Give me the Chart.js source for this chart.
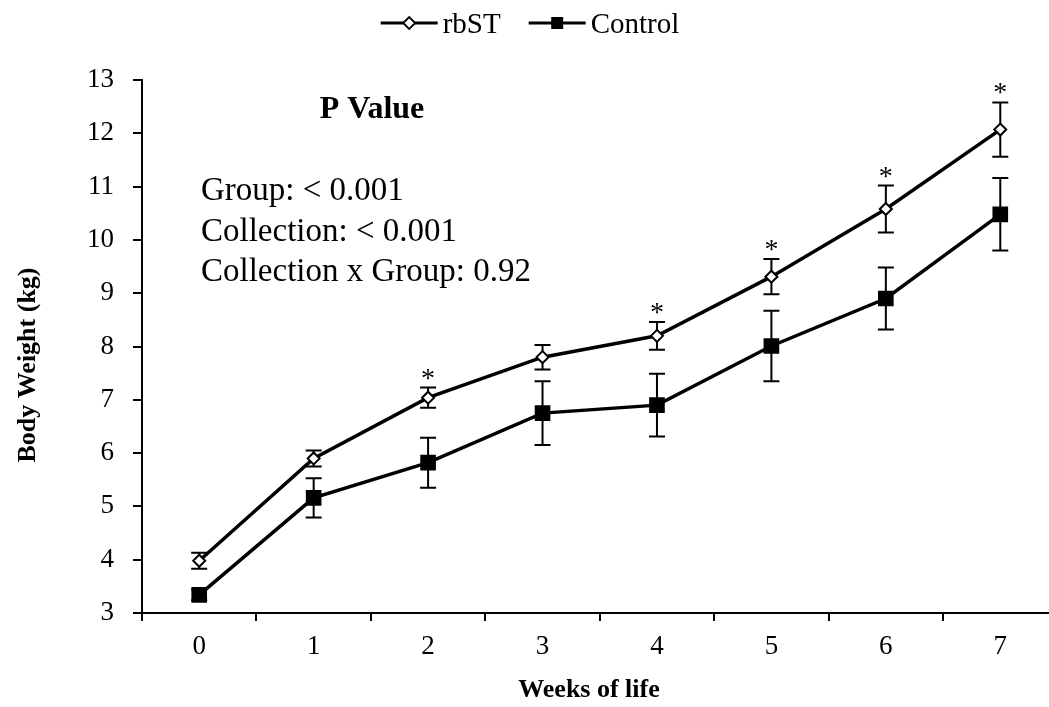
<!DOCTYPE html>
<html lang="en">
<head>
    <meta charset="UTF-8">
    <title>Body Weight rbST vs Control</title>
    <style>
        html, body { margin: 0; padding: 0; background: #fff; overflow: hidden; }
        #wrap { width: 1069px; height: 707px; }
        #myChart { width: 1069px; height: 707px; }
    </style>
</head>
<body>
    <div id="wrap">
        <canvas id="myChart" width="1069" height="707"></canvas>
    </div>

    <script src="https://cdn.jsdelivr.net/npm/chart.js@4.4.1/dist/chart.umd.min.js"></script>
    <script>
        // data
        const weeks = ['0', '1', '2', '3', '4', '5', '6', '7'];
        const rbST = [3.98, 5.90, 7.04, 7.80, 8.20, 9.31, 10.58, 12.07];
        const rbSTErr = [0.15, 0.15, 0.19, 0.23, 0.26, 0.33, 0.44, 0.51];
        const control = [3.34, 5.16, 5.82, 6.75, 6.90, 8.01, 8.90, 10.48];
        const controlErr = [0.10, 0.37, 0.47, 0.60, 0.59, 0.66, 0.58, 0.68];
        const significant = [false, false, true, false, true, true, true, true];
        const xTitle = 'Weeks of life';
        const yTitle = 'Body Weight (kg)';
        const pTitle = 'P Value';
        const pLines = ['Group: < 0.001', 'Collection: < 0.001', 'Collection x Group: 0.92'];

        const serif = "'Liberation Serif', 'Times New Roman', serif";

        // error bars under the lines and markers, asterisks on top
        const errorBars = {
            id: 'errorBars',
            beforeDatasetsDraw(chart) {
                const ctx = chart.ctx;
                const y = chart.scales.y;
                const errs = [rbSTErr, controlErr];
                ctx.save();
                ctx.strokeStyle = '#000';
                ctx.lineWidth = 2;
                chart.data.datasets.forEach((ds, i) => {
                    const meta = chart.getDatasetMeta(i);
                    meta.data.forEach((pt, j) => {
                        const top = y.getPixelForValue(ds.data[j] + errs[i][j]);
                        const bot = y.getPixelForValue(ds.data[j] - errs[i][j]);
                        ctx.beginPath();
                        ctx.moveTo(pt.x, top); ctx.lineTo(pt.x, bot);
                        ctx.moveTo(pt.x - 8, top); ctx.lineTo(pt.x + 8, top);
                        ctx.moveTo(pt.x - 8, bot); ctx.lineTo(pt.x + 8, bot);
                        ctx.stroke();
                    });
                });
                ctx.restore();
            },
            afterDatasetsDraw(chart) {
                const ctx = chart.ctx;
                const y = chart.scales.y;
                const meta = chart.getDatasetMeta(0);
                ctx.save();
                ctx.fillStyle = '#000';
                ctx.font = '28px ' + serif;
                ctx.textAlign = 'center';
                ctx.textBaseline = 'alphabetic';
                meta.data.forEach((pt, j) => {
                    if (!significant[j]) return;
                    const top = y.getPixelForValue(rbST[j] + rbSTErr[j]);
                    ctx.fillText('*', pt.x, top - 1);
                });
                ctx.restore();
            }
        };

        // legend (line-marker-line), axis titles and the P value text box
        const extras = {
            id: 'extras',
            afterDraw(chart) {
                const ctx = chart.ctx;
                ctx.save();
                ctx.fillStyle = '#000';
                ctx.strokeStyle = '#000';

                ctx.font = '29px ' + serif;
                const lineLen = 57, gap = 5, itemGap = 28;
                const items = chart.data.datasets.map(ds => ({ ds, w: ctx.measureText(ds.label).width }));
                let total = 0;
                items.forEach((it, k) => { total += lineLen + gap + it.w + (k ? itemGap : 0); });
                let x = 530 - total / 2;
                const ly = 23;
                items.forEach((it, k) => {
                    if (k) x += itemGap;
                    ctx.lineWidth = 3;
                    ctx.beginPath();
                    ctx.moveTo(x, ly); ctx.lineTo(x + lineLen, ly);
                    ctx.stroke();
                    const cx = x + lineLen / 2;
                    ctx.beginPath();
                    if (it.ds.pointStyle === 'rectRot') {
                        ctx.moveTo(cx - 6, ly); ctx.lineTo(cx, ly - 6);
                        ctx.lineTo(cx + 6, ly); ctx.lineTo(cx, ly + 6);
                        ctx.closePath();
                        ctx.fillStyle = '#fff'; ctx.fill();
                        ctx.lineWidth = 1.8; ctx.stroke();
                    } else {
                        ctx.rect(cx - 6, ly - 6, 12, 12);
                        ctx.fillStyle = '#000'; ctx.fill();
                    }
                    ctx.fillStyle = '#000';
                    ctx.textAlign = 'left';
                    ctx.textBaseline = 'alphabetic';
                    ctx.fillText(it.ds.label, x + lineLen + gap, 33);
                    x += lineLen + gap + it.w;
                });

                // axis titles, placed as in the original (not centred on the plot)
                ctx.font = 'bold 26px ' + serif;
                ctx.textAlign = 'center';
                ctx.textBaseline = 'middle';
                ctx.fillText(xTitle, 589, 690);
                ctx.save();
                ctx.translate(28, 365);
                ctx.rotate(-Math.PI / 2);
                ctx.fillText(yTitle, 0, 0);
                ctx.restore();

                const a = chart.chartArea;
                ctx.font = 'bold 32px ' + serif;
                ctx.textAlign = 'center';
                ctx.textBaseline = 'alphabetic';
                ctx.fillText(pTitle, a.left + 230, 118);
                ctx.font = '33px ' + serif;
                ctx.textAlign = 'left';
                pLines.forEach((t, k) => ctx.fillText(t, a.left + 59, 200 + k * 40.5));
                ctx.restore();
            }
        };

        const ctx = document.getElementById('myChart').getContext('2d');
        const myChart = new Chart(ctx, {
            type: 'line',
            data: {
                labels: weeks,
                datasets: [{
                    label: 'rbST',
                    data: rbST,
                    borderColor: '#000',
                    borderWidth: 3.5,
                    pointStyle: 'rectRot',
                    pointRadius: 6,
                    pointBackgroundColor: '#fff',
                    pointBorderColor: '#000',
                    pointBorderWidth: 2,
                    tension: 0
                }, {
                    label: 'Control',
                    data: control,
                    borderColor: '#000',
                    borderWidth: 3.5,
                    pointStyle: 'rect',
                    pointRadius: 10,
                    pointBackgroundColor: '#000',
                    pointBorderColor: '#000',
                    pointBorderWidth: 1.5,
                    tension: 0
                }]
            },
            options: {
                responsive: false,
                animation: false,
                devicePixelRatio: 1,
                layout: { padding: { top: 80, left: 0, right: 0, bottom: 0 } },
                plugins: {
                    legend: { display: false },
                    tooltip: { enabled: false }
                },
                scales: {
                    x: {
                        type: 'category',
                        offset: true,
                        grid: { offset: true, drawOnChartArea: false, drawTicks: true, tickLength: 8, color: '#000', lineWidth: 2 },
                        border: { color: '#000', width: 2 },
                        ticks: { color: '#000', font: { family: serif, size: 27 }, padding: 10, autoSkip: false, maxRotation: 0 },
                        afterFit(s) {
                            s.height = 94;
                            s.paddingLeft = 0;
                            s.paddingRight = 0;
                        }
                    },
                    y: {
                        min: 3,
                        max: 13,
                        grid: { drawOnChartArea: false, drawTicks: true, tickLength: 9, color: '#000', lineWidth: 2 },
                        border: { color: '#000', width: 2 },
                        ticks: { stepSize: 1, color: '#000', font: { family: serif, size: 27 }, padding: 19 },
                        afterFit(s) { s.width = 142; }
                    }
                }
            },
            plugins: [errorBars, extras]
        });
    </script>
</body>
</html>
